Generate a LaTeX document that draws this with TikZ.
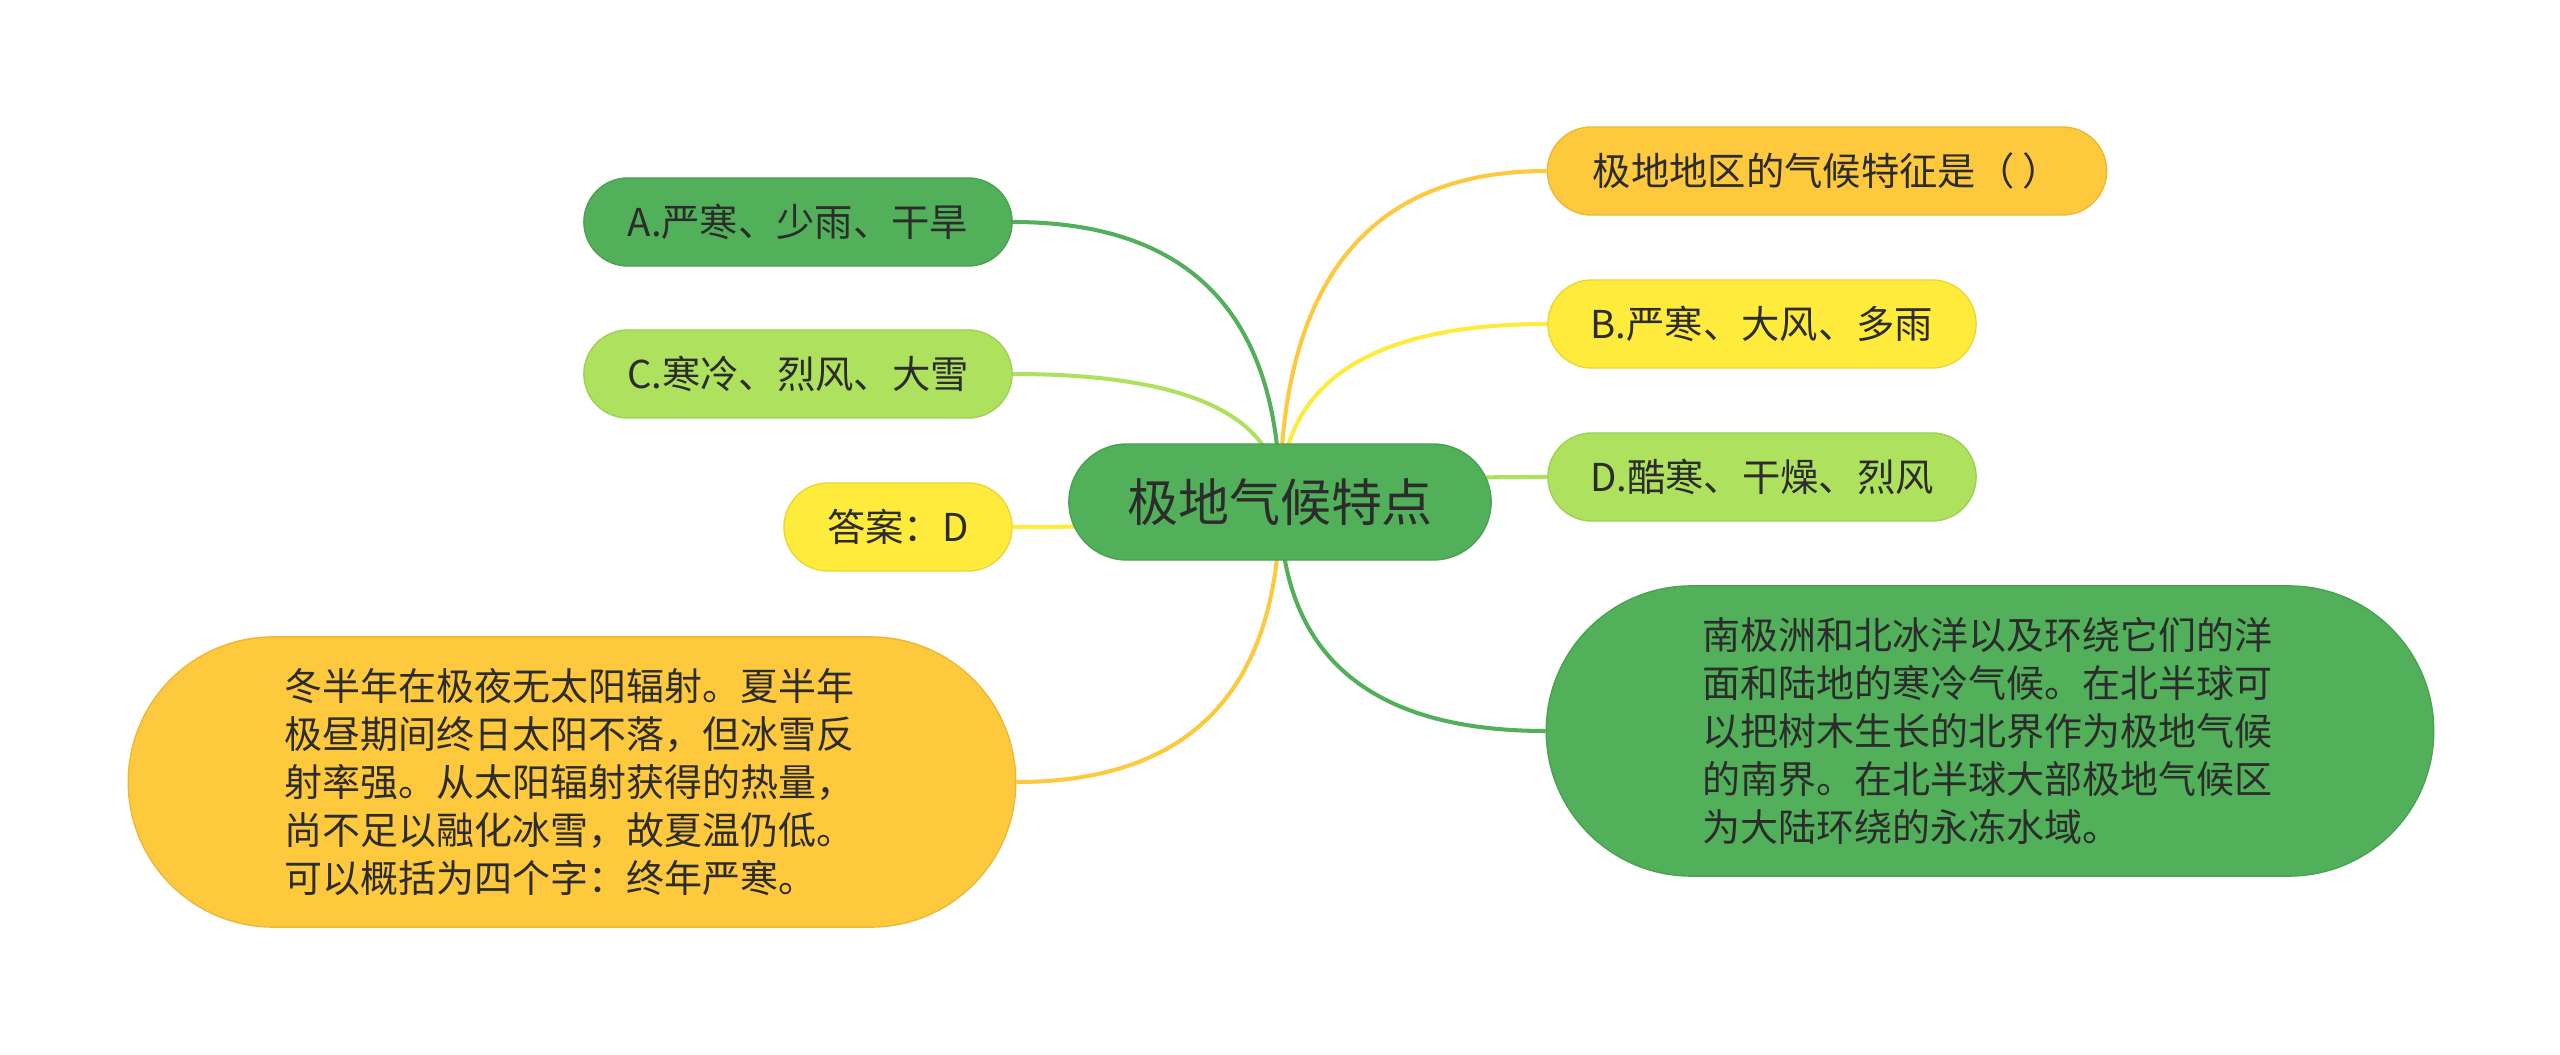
\documentclass[tikz,border=0pt]{standalone}
\usepackage{fontspec}
\setmainfont{Noto Sans CJK SC}
\usetikzlibrary{calc,backgrounds}
\definecolor{gruen}{RGB}{82,176,90}
\definecolor{hellgruen}{RGB}{174,226,94}
\definecolor{gelb}{RGB}{255,235,59}
\definecolor{goldgelb}{RGB}{254,201,60}
\definecolor{schrift}{RGB}{44,44,44}

\begin{document}
\begin{tikzpicture}[x=0.01cm, y=-0.01cm, text=schrift,
	knoten/.style={draw=#1!92!black, fill=#1, line width=0.4pt, rounded corners=0.44cm, minimum height=0.88cm, minimum width=4.28cm, font=\fontsize{10.9}{13}\selectfont},
	block/.style={draw=#1!92!black, fill=#1, line width=0.4pt, rounded corners=1.45cm, minimum height=2.9cm, minimum width=8.87cm, text width=5.75cm, align=left, font=\fontsize{10.8}{13.7}\selectfont},
	ast/.style={draw=#1, line width=1.15pt}]

	\useasboundingbox (0,0) rectangle (2560,1055);

	\node[knoten=gruen, minimum height=1.16cm, minimum width=4.22cm, rounded corners=0.58cm, font=\fontsize{14.5}{17}\selectfont] (root) at (1280,502) {极地气候特点};

	\node[knoten=gruen] (a) at (798,222) {A.严寒、少雨、干旱};
	\node[knoten=hellgruen] (c) at (798,374) {C.寒冷、烈风、大雪};
	\node[knoten=gelb, minimum width=2.28cm] (ans) at (898,527) {答案：D};
	\node[block=goldgelb] (erkl) at (572,782) {冬半年在极夜无太阳辐射。夏半年\\极昼期间终日太阳不落，但冰雪反\\射率强。从太阳辐射获得的热量，\\尚不足以融化冰雪，故夏温仍低。\\可以概括为四个字：终年严寒。};

	\node[knoten=goldgelb, minimum width=5.59cm] (frage) at (1827,171) {极地地区的气候特征是（ ）};
	\node[knoten=gelb] (b) at (1762,324) {B.严寒、大风、多雨};
	\node[knoten=hellgruen] (d) at (1762,477) {D.酷寒、干燥、烈风};
	\node[block=gruen] (def) at (1990,731) {南极洲和北冰洋以及环绕它们的洋\\面和陆地的寒冷气候。在北半球可\\以把树木生长的北界作为极地气候\\的南界。在北半球大部极地气候区\\为大陆环绕的永冻水域。};

	\begin{scope}[on background layer]
		\fill[white] (0,0) rectangle (2560,1055);
		\foreach \kind/\anker/\farbe in {a/east/gruen, c/east/hellgruen, ans/east/gelb, erkl/east/goldgelb,
			frage/west/goldgelb, b/west/gelb, d/west/hellgruen, def/west/gruen}
			\draw[ast=\farbe] (root.center)
				.. controls ($(root.center)!2/3!(root.center |- \kind.\anker)$)
				and ($(\kind.\anker)!2/3!(root.center |- \kind.\anker)$) .. (\kind.\anker);
	\end{scope}
\end{tikzpicture}
\end{document}
